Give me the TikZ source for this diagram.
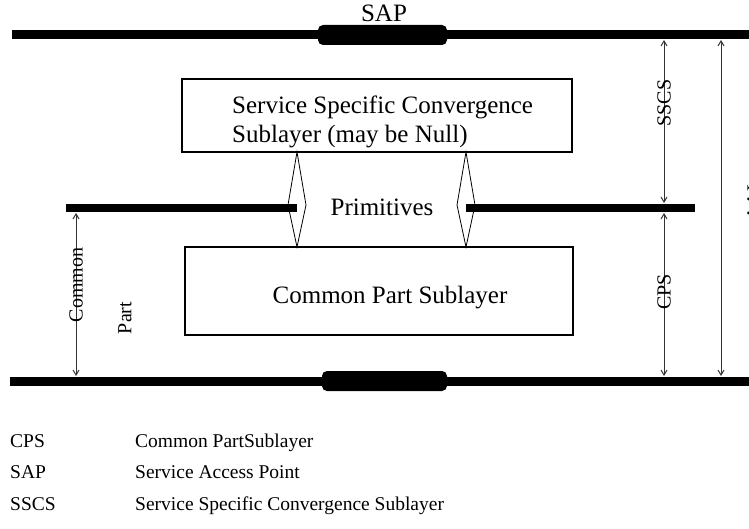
\documentclass[tikz,border=0pt]{standalone}
\usepackage{fontspec}
\setmainfont{Liberation Serif}
\usetikzlibrary{arrows.meta}

\begin{document}
\begin{tikzpicture}[x=1pt,y=-1pt,
  bus/.style={line width=9pt},
  midbus/.style={line width=8pt},
  sapblock/.style={fill=black,rounded corners=5pt},
  layerbox/.style={draw,line width=1.1pt,inner sep=0pt},
  prim/.style={draw,line width=0.8pt},
  dim/.style={line width=1pt,draw=black!80,{Straight Barb[length=5pt,width=6pt]}-{Straight Barb[length=5pt,width=6pt]}},
  lbl/.style={font=\fontsize{25}{28}\selectfont,inner sep=0pt},
  vlbl/.style={font=\fontsize{20}{22}\selectfont,inner sep=0pt,rotate=90},
  key/.style={font=\fontsize{19.5}{22}\selectfont,inner sep=0pt,anchor=base west}]

\useasboundingbox (0,0) rectangle (749,529);
\clip (0,0) rectangle (749,529);

% upper and lower service boundaries with their access points
\coordinate (topL) at (12,35);   \coordinate (topR) at (760,35);
\coordinate (botL) at (10,381);  \coordinate (botR) at (760,381);
\draw[bus] (topL) -- (topR);
\draw[bus] (botL) -- (botR);
\fill[sapblock] (318,25) rectangle (447,45);
\fill[sapblock] (322,371) rectangle (447,391);
\node[lbl,anchor=base] (sap) at (384,22) {SAP};

% internal boundary between the two sublayers
\coordinate (midL1) at (66,208);  \coordinate (midR1) at (297,208);
\coordinate (midL2) at (466,208); \coordinate (midR2) at (695,208);
\draw[midbus] (midL1) -- (midR1);
\draw[midbus] (midL2) -- (midR2);

% sublayer boxes
\node[layerbox,minimum width=390pt,minimum height=73pt] (sscs) at (377,115.5) {};
\node[lbl,anchor=base west] (sscs1) at (232,114) {Service Specific Convergence};
\node[lbl,anchor=base west] (sscs2) at (232,143) {Sublayer (may be Null)};
\node[layerbox,minimum width=388pt,minimum height=88pt] (cps) at (379,291) {};
\node[lbl,anchor=base] (cpst) at (390,303) {Common Part Sublayer};

% primitives exchanged across the internal boundary
\node[lbl,anchor=base] (prims) at (382,216) {Primitives};
\draw[prim] (297,152) -- (306,205) -- (297,247) -- (288,205) -- cycle;
\draw[prim] (466,152) -- (475,205) -- (466,247) -- (457,205) -- cycle;

% extents on the right
\coordinate (ssA) at (664,40);  \coordinate (ssB) at (664,203);
\coordinate (cpA) at (664,213); \coordinate (cpB) at (664,376);
\coordinate (alA) at (721,40);  \coordinate (alB) at (721,376);
\draw[dim] (ssA) -- (ssB);
\draw[dim] (cpA) -- (cpB);
\draw[dim] (alA) -- (alB);
\node[vlbl] (ssl) at (664,103) {SSCS};
\node[vlbl] (cpl) at (664,292) {CPS};
\node[vlbl] (all) at (754,200) {AAL};

% extent on the left
\coordinate (cmA) at (76,213); \coordinate (cmB) at (76,376);
\draw[dim] (cmA) -- (cmB);
\node[vlbl] (cml) at (76,285) {Common};
\node[vlbl] (ptl) at (125,318) {Part};

% abbreviations
\node[key] (k1a) at (10,447) {CPS};
\node[key] (k1b) at (135,447) {Common PartSublayer};
\node[key] (k2a) at (10,478) {SAP};
\node[key] (k2b) at (135,478) {Service Access Point};
\node[key] (k3a) at (10,510) {SSCS};
\node[key] (k3b) at (135,510) {Service Specific Convergence Sublayer};
\end{tikzpicture}
\end{document}
